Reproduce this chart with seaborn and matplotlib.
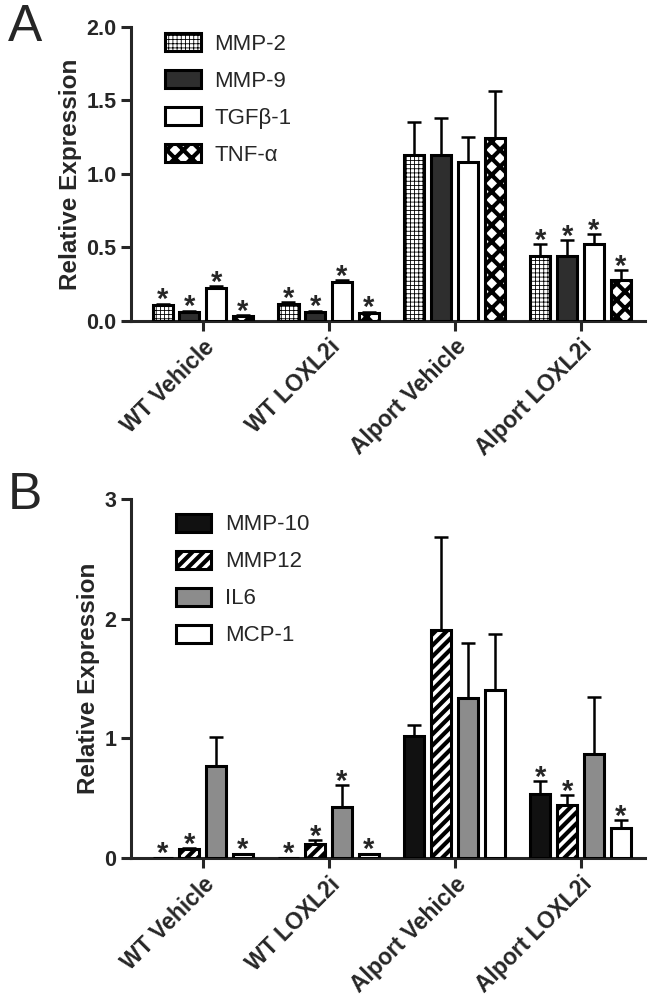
import numpy as np
import pandas as pd
import matplotlib
matplotlib.use('Agg')
import matplotlib.pyplot as plt
import seaborn as sns

groups = ['WT Vehicle', 'WT LOXL2i', 'Alport Vehicle', 'Alport LOXL2i']

# Panel A
genes_a = ['MMP-2', 'MMP-9', 'TGFβ-1', 'TNF-α']
mmp2 = [0.107, 0.114, 1.131, 0.441]
mmp2_err = [0.008, 0.010, 0.225, 0.078]
mmp9 = [0.062, 0.062, 1.131, 0.441]
mmp9_err = [0.006, 0.006, 0.252, 0.105]
tgfb1 = [0.222, 0.263, 1.082, 0.519]
tgfb1_err = [0.012, 0.014, 0.172, 0.071]
tnfa = [0.029, 0.050, 1.243, 0.274]
tnfa_err = [0.008, 0.010, 0.318, 0.071]
stars_a = [[1, 1, 0, 1], [1, 1, 0, 1], [1, 1, 0, 1], [1, 1, 0, 1]]

# Panel B
genes_b = ['MMP-10', 'MMP12', 'IL6', 'MCP-1']
mmp10 = [0.004, 0.004, 1.022, 0.539]
mmp10_err = [0.0, 0.0, 0.090, 0.103]
mmp12 = [0.073, 0.120, 1.908, 0.447]
mmp12_err = [0.010, 0.028, 0.776, 0.078]
il6 = [0.768, 0.427, 1.341, 0.869]
il6_err = [0.243, 0.182, 0.455, 0.480]
mcp1 = [0.030, 0.030, 1.405, 0.251]
mcp1_err = [0.006, 0.006, 0.467, 0.065]
stars_b = [[1, 1, 0, 1], [1, 1, 0, 1], [0, 1, 0, 0], [1, 1, 0, 1]]

sns.set_style('white')
plt.rcParams['font.family'] = ['Liberation Sans', 'DejaVu Sans']
plt.rcParams['hatch.linewidth'] = 2.5


def make_df(genes, values, errors):
    rows = []
    for gene, vals, errs in zip(genes, values, errors):
        for g, v, e in zip(groups, vals, errs):
            rows.append({'Group': g, 'Gene': gene, 'Value': v, 'Err': e})
    return pd.DataFrame(rows)


def style_patch(p, fc, hatch, hlw):
    p.set_facecolor(fc)
    p.set_edgecolor('black')
    p.set_linewidth(2.2)
    p.set_hatch(hatch)
    if hasattr(p, 'set_hatch_linewidth'):
        p.set_hatch_linewidth(hlw)


def draw_panel(ax, df, genes, stars, ymax, yticks, styles, leg_anchor):
    sns.barplot(data=df, x='Group', y='Value', hue='Gene', order=groups,
                hue_order=genes, errorbar=None, width=0.85, gap=0.25,
                legend=False, ax=ax)
    for cont, (fc, hatch, hlw) in zip(ax.containers, styles):
        for p in cont.patches:
            style_patch(p, fc, hatch, hlw)
            p.set_zorder(3)
    for cont, gene, st in zip(ax.containers, genes, stars):
        sub = df[df['Gene'] == gene].set_index('Group').loc[groups]
        xs = [p.get_x() + p.get_width() / 2 for p in cont.patches]
        ys = sub['Value'].values
        es = sub['Err'].values
        ax.errorbar(xs, ys, yerr=[np.zeros(len(es)), es], fmt='none',
                    ecolor='black', elinewidth=1.8, capsize=5, capthick=1.8,
                    zorder=2)
        for x, y, e, s in zip(xs, ys, es, st):
            if s:
                ax.annotate('*', (x, y + e), xytext=(0, 2.5),
                            textcoords='offset points', ha='center',
                            va='center', fontsize=21, fontweight='bold',
                            zorder=5)
    ax.set_ylim(0, ymax)
    ax.set_xlim(-0.57, 3.51)
    ax.set_yticks(yticks)
    ax.set_xlabel('')
    ax.set_ylabel('Relative Expression', fontsize=17.5, fontweight='bold',
                  labelpad=3)
    sns.despine(ax=ax)
    for side in ['left', 'bottom']:
        ax.spines[side].set_linewidth(2.2)
    ax.tick_params(axis='both', direction='out', length=7, width=2.2,
                   bottom=True, left=True)
    ax.set_xticks(range(len(groups)))
    ax.set_xticklabels(groups, rotation=45, ha='right',
                       rotation_mode='anchor', fontsize=16.5,
                       fontweight='bold')
    leg = ax.legend(handles=ax.containers, labels=genes, loc='upper left',
                    bbox_to_anchor=leg_anchor, frameon=False, fontsize=16,
                    handlelength=1.6, handleheight=0.9, labelspacing=0.68,
                    handletextpad=0.6, borderaxespad=0)
    # legend handles are copies, restyle them the same way
    for h, (fc, hatch, hlw) in zip(leg.legend_handles, styles):
        style_patch(h, fc, hatch, hlw)


fig = plt.figure(figsize=(6.48, 10.02), dpi=100)
ax_a = fig.add_axes([0.202, 0.680, 0.793, 0.293])
ax_b = fig.add_axes([0.202, 0.1437, 0.793, 0.358])

df_a = make_df(genes_a, [mmp2, mmp9, tgfb1, tnfa],
               [mmp2_err, mmp9_err, tgfb1_err, tnfa_err])
styles_a = [('white', '++++', 0.6), ('#2e2e2e', '', 1.0),
            ('white', '', 1.0), ('white', 'xx', 3.0)]
draw_panel(ax_a, df_a, genes_a, stars_a, 2.0, [0.0, 0.5, 1.0, 1.5, 2.0],
           styles_a, (0.05, 1.01))
ax_a.set_yticklabels(['0.0', '0.5', '1.0', '1.5', '2.0'])

df_b = make_df(genes_b, [mmp10, mmp12, il6, mcp1],
               [mmp10_err, mmp12_err, il6_err, mcp1_err])
styles_b = [('#111111', '', 1.0), ('white', '///', 3.0),
            ('#8c8c8c', '', 1.0), ('white', '', 1.0)]
draw_panel(ax_b, df_b, genes_b, stars_b, 3, [0, 1, 2, 3],
           styles_b, (0.07, 0.985))

for ax in [ax_a, ax_b]:
    for lab in ax.get_yticklabels():
        lab.set_fontsize(15.5)
        lab.set_fontweight('bold')

fig.text(0.012, 0.997, 'A', fontsize=37, ha='left', va='top')
fig.text(0.012, 0.530, 'B', fontsize=37, ha='left', va='top')

fig.savefig('out.png', dpi=100)
